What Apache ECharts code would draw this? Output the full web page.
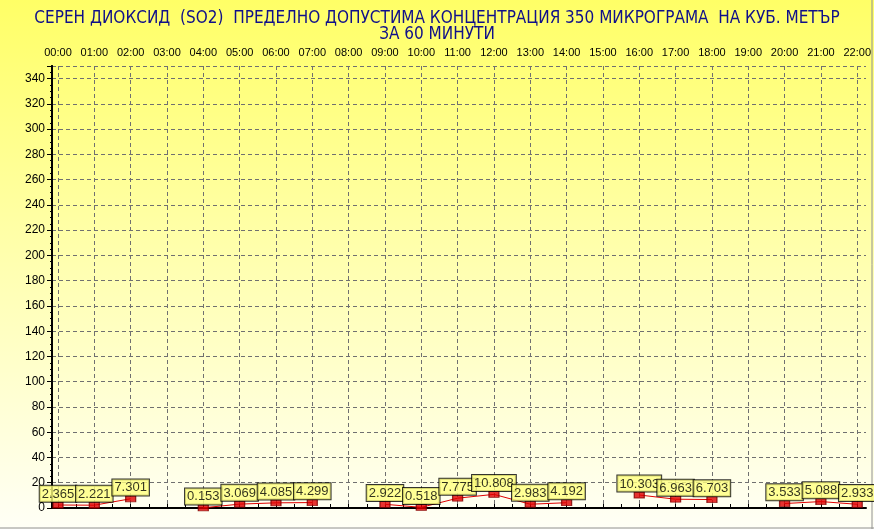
<!DOCTYPE html>
<html>
<head>
<meta charset="utf-8">
<script src="https://cdn.jsdelivr.net/npm/echarts@6/dist/echarts.min.js"></script>
<style>html,body{margin:0;padding:0;background:#fff}#c{width:874px;height:529px}</style>
</head>
<body>
<div id="c"></div>
<script>
var hours = ['00:00','01:00','02:00','03:00','04:00','05:00','06:00','07:00','08:00','09:00','10:00','11:00','12:00','13:00','14:00','15:00','16:00','17:00','18:00','19:00','20:00','21:00','22:00'];
var so2 = [2.365, 2.221, 7.301, null, 0.153, 3.069, 4.085, 4.299, null, 2.922, 0.518, 7.775, 10.808, 2.983, 4.192, null, 10.303, 6.963, 6.703, null, 3.533, 5.088, 2.933];
var yMin = 0, yMax = 350, yStep = 20;
var titleText = 'СЕРЕН ДИОКСИД  (SO2)  ПРЕДЕЛНО ДОПУСТИМА КОНЦЕНТРАЦИЯ 350 МИКРОГРАМА  НА КУБ. МЕТЪР\nЗА 60 МИНУТИ';

var pts = hours.map(function (h, i) { return [i, so2[i]]; });
var markPts = pts.filter(function (p) { return p[1] !== null; });

var chart = echarts.init(document.getElementById('c'));
var dash = { color: '#707070', type: [4, 3], width: 1 };
chart.setOption({
  animation: false,
  backgroundColor: new echarts.graphic.LinearGradient(0, 0, 0, 1, [
    { offset: 0, color: '#ffff66' },
    { offset: 0.5, color: '#ffffb0' },
    { offset: 1, color: '#fffff6' }
  ]),
  title: {
    text: titleText,
    left: 'center', top: 6,
    textStyle: { color: '#10108a', fontSize: 17, fontWeight: 'normal', fontFamily: 'DejaVu Sans Condensed, DejaVu Sans, sans-serif', lineHeight: 16 }
  },
  grid: [
    { left: 52, right: 8, top: 66, bottom: 21 },
    { left: 58, right: 12, top: 66, bottom: 21 }
  ],
  xAxis: [
    { gridIndex: 0, type: 'value', min: 0, max: 1, position: 'top',
      axisLine: { show: true, lineStyle: { color: '#000', width: 2 } },
      axisTick: { show: false }, axisLabel: { show: false }, splitLine: { show: false } },
    { gridIndex: 0, type: 'value', min: 0, max: 1, position: 'bottom',
      axisLine: { show: true, lineStyle: { color: '#000', width: 1, type: [3, 2] } },
      axisTick: { show: false }, axisLabel: { show: false }, splitLine: { show: false } },
    { gridIndex: 1, type: 'value', min: 0, max: hours.length - 1, interval: 1, position: 'top',
      axisLine: { show: false },
      axisTick: { show: true, length: 4, lineStyle: { color: '#000' } },
      minorTick: { show: true, splitNumber: 2, length: 4, lineStyle: { color: '#000' } },
      axisLabel: { show: true, margin: 8, fontSize: 11, color: '#000', fontFamily: 'Arial',
        formatter: function (v) { return hours[Math.round(v)]; } },
      splitLine: { show: true, lineStyle: dash } }
  ],
  yAxis: [
    { gridIndex: 0, type: 'value', min: yMin, max: yMax, interval: yStep, position: 'left',
      axisLine: { show: true, lineStyle: { color: '#000', width: 2 } },
      axisTick: { show: true, length: 5, lineStyle: { color: '#000' } },
      minorTick: { show: true, splitNumber: 4, length: 2, lineStyle: { color: '#000' } },
      axisLabel: { show: true, margin: 7, fontSize: 12, color: '#000', fontFamily: 'Arial', showMaxLabel: false },
      splitLine: { show: true, lineStyle: dash } },
    { gridIndex: 0, type: 'value', min: yMin, max: yMax, position: 'right',
      axisLine: { show: true, lineStyle: { color: '#000', width: 2 } },
      axisTick: { show: false }, axisLabel: { show: false }, splitLine: { show: false } },
    { gridIndex: 1, type: 'value', min: yMin, max: yMax, interval: yStep,
      axisLine: { show: false }, axisTick: { show: false }, axisLabel: { show: false }, splitLine: { show: false } }
  ],
  graphic: [
    { type: 'line', shape: { x1: 0, y1: 528, x2: 874, y2: 528 }, style: { stroke: '#909090', lineWidth: 1 } },
    { type: 'line', shape: { x1: 872, y1: 0, x2: 872, y2: 529 }, style: { stroke: '#909090', lineWidth: 1 } }
  ],
  series: [
    { type: 'line', xAxisIndex: 2, yAxisIndex: 2, data: pts, symbol: 'none', connectNulls: false,
      lineStyle: { color: '#e00000', width: 1 }, z: 2, silent: true },
    { type: 'scatter', xAxisIndex: 2, yAxisIndex: 2, data: markPts, symbol: 'rect', symbolSize: [10, 6], symbolOffset: [0, 0],
      itemStyle: { color: '#e00000', borderColor: '#800000', borderWidth: 1 }, z: 3,
      label: { show: true, position: 'top', distance: 0,
        formatter: function (p) { return p.value[1].toFixed(3); },
        backgroundColor: '#ffff80', borderColor: '#000', borderWidth: 1, padding: [2, 2, 1, 2],
        fontSize: 13, color: '#000', fontFamily: 'Arial' } }
  ]
});
</script>
</body>
</html>
